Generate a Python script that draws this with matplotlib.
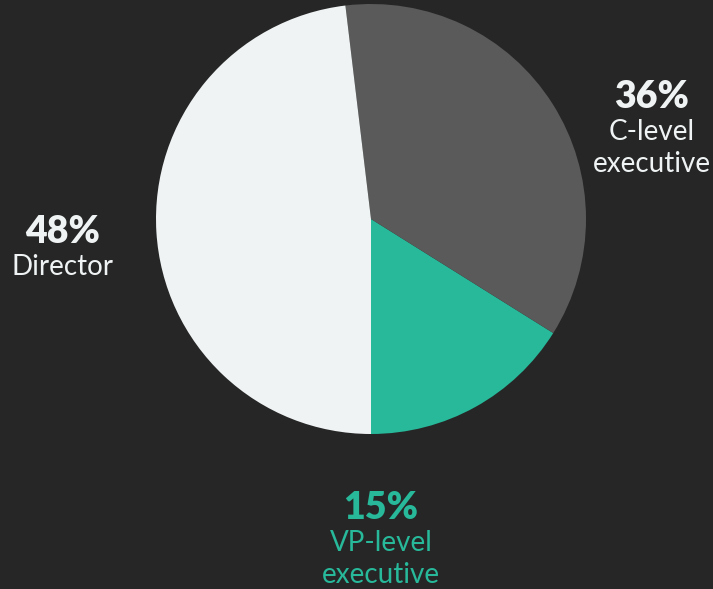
import matplotlib
matplotlib.use("Agg")
import matplotlib.pyplot as plt

categories = ["VP-level\nexecutive", "C-level\nexecutive", "Director"]
values = [16.1, 35.8, 48.1]
pct_labels = ["15%", "36%", "48%"]
colors = ["#27b99a", "#595a59", "#eff3f4"]
text_colors = ["#27b99a", "#eff3f4", "#eff3f4"]

W, H = 713, 589
bg = "#262626"
fig = plt.figure(figsize=(W / 100, H / 100), dpi=100, facecolor=bg)
ax = fig.add_axes([0, 0, 1, 1])
ax.set_facecolor(bg)

ax.pie(values, colors=colors, startangle=270, counterclock=True,
       center=(371, H - 219), radius=215, frame=True,
       wedgeprops=dict(linewidth=0))
ax.set_xlim(0, W)
ax.set_ylim(0, H)
ax.set_aspect("equal")
ax.axis("off")

# label anchor: (center x, baseline y of percent) in pixel coords from top
pos = [(381, 519), (652, 108), (63, 243)]
font = ["Lato", "DejaVu Sans"]
for (x, y), p, c, tc in zip(pos, pct_labels, categories, text_colors):
    ax.text(x, H - y, p, ha="center", va="baseline", fontsize=27,
            fontweight="heavy", color=tc, family=font)
    for i, line in enumerate(c.split("\n")):
        ax.text(x, H - (y + 32 + 32 * i), line, ha="center", va="baseline",
                fontsize=20, color=tc, family=font)

fig.savefig("out.png", dpi=100, facecolor=bg)
